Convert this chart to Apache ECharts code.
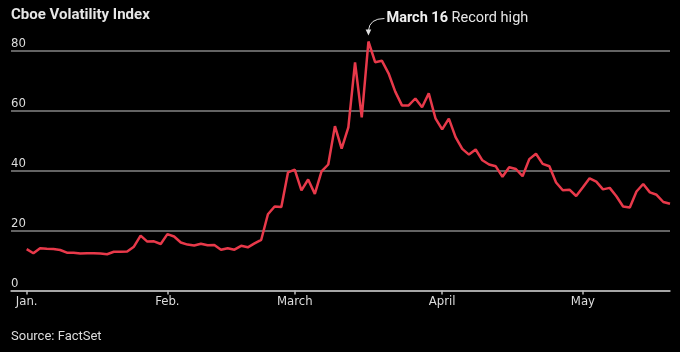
<!DOCTYPE html>
<html>
<head>
<meta charset="utf-8">
<script src="https://cdn.jsdelivr.net/npm/echarts@6/dist/echarts.min.js"></script>
<style>
  html, body { margin: 0; padding: 0; background: #000; }
  #chart { width: 680px; height: 352px; }
</style>
</head>
<body>
<div id="chart"></div>
<script>
// Cboe Volatility Index, one value per trading day (Dec 31 to mid-May)
const vixValues = [
  13.8, 12.4, 14.1, 13.9, 13.8, 13.5, 12.6, 12.6, 12.3, 12.4, 12.4, 12.3, 12.1, 12.9, 12.9, 13.0, 14.6, 18.3, 16.3, 16.4, 15.5, 18.8,
  18.0, 16.0, 15.3, 15.0, 15.6, 15.1, 15.2, 13.6, 14.1, 13.6, 14.9, 14.4, 15.7, 16.9, 25.4, 28.0, 27.8, 39.4, 40.3,
  33.4, 37.0, 32.2, 39.7, 42.0, 54.8, 47.3, 54.4, 76.0, 57.7, 83.0, 76.1, 76.6, 72.4, 66.3, 61.7, 61.7, 64.0, 61.1, 65.7, 57.4, 53.7, 57.3,
  51.1, 47.2, 45.3, 47.0, 43.4, 42.0, 41.4, 37.9, 41.1, 40.5, 38.1, 43.8, 45.6, 42.2, 41.4, 36.0, 33.4, 33.6, 31.5, 34.4,
  37.4, 36.3, 33.7, 34.2, 31.4, 28.0, 27.7, 33.0, 35.5, 32.7, 31.9, 29.5, 28.9
];

// month ticks sit on the trading-day index where each month begins
const monthTickIndex = [0, 21, 40, 62, 83];
const monthTickLabels = ['Jan.', 'Feb.', 'March', 'April', 'May'];

const yTicks = [0, 20, 40, 60, 80];

const peakLabelBold = 'March 16';
const peakLabelText = ' Record high';

const textColor = '#dcdcdc';
const lineColor = '#e8394a';
const narrowFont = '"Liberation Sans Narrow", "DejaVu Sans Condensed", Roboto, sans-serif';

const chart = echarts.init(document.getElementById('chart'));

const option = {
  backgroundColor: '#000',
  animation: false,
  title: [
    {
      text: 'Cboe Volatility Index',
      left: 6,
      top: 3,
      textStyle: { color: '#e6e6e6', fontFamily: 'Roboto', fontWeight: 'bold', fontSize: 15 }
    },
    {
      text: 'Source: FactSet',
      left: 6,
      top: 325,
      textStyle: { color: textColor, fontFamily: 'Roboto', fontWeight: 'normal', fontSize: 13 }
    }
  ],
  grid: {
    left: 11,
    right: 10,
    top: 50.5,
    bottom: 61.5,
    containLabel: false
  },
  xAxis: {
    type: 'value',
    min: -2.34,
    max: vixValues.length - 1,
    splitLine: { show: false },
    axisLine: { show: true, lineStyle: { color: '#bdbdbd', width: 1.5 } },
    axisTick: {
      show: true,
      length: 4,
      customValues: monthTickIndex,
      lineStyle: { color: '#bdbdbd', width: 1.5 }
    },
    axisLabel: {
      customValues: monthTickIndex,
      margin: 5,
      color: textColor,
      fontFamily: narrowFont,
      fontSize: 13,
      formatter: (v) => {
        const i = monthTickIndex.indexOf(Math.round(v));
        return i >= 0 ? monthTickLabels[i] : '';
      }
    }
  },
  yAxis: {
    type: 'value',
    min: yTicks[0],
    max: yTicks[yTicks.length - 1],
    interval: 20,
    axisLine: { show: false },
    axisTick: { show: false },
    splitLine: { show: true, lineStyle: { color: '#858585', width: 1.5 } },
    axisLabel: {
      inside: true,
      margin: 0,
      align: 'left',
      verticalAlign: 'bottom',
      padding: [0, 0, 0, 0],
      color: textColor,
      fontFamily: narrowFont,
      fontSize: 13
    }
  },
  series: [
    {
      name: 'VIX',
      type: 'line',
      symbol: 'none',
      smooth: false,
      clip: false,
      lineStyle: { color: lineColor, width: 2.5 },
      data: vixValues.map((v, i) => [i, v])
    }
  ]
};

chart.setOption(option);

// annotation for the record high, placed from the chart's own scales
let peakIdx = 0;
vixValues.forEach((v, i) => { if (v > vixValues[peakIdx]) peakIdx = i; });
const p = chart.convertToPixel({ xAxisIndex: 0, yAxisIndex: 0 }, [peakIdx, vixValues[peakIdx]]);

chart.setOption({
  graphic: [
    {
      type: 'bezierCurve',
      shape: {
        x1: p[0] + 16, y1: p[1] - 23,
        cpx1: p[0] + 1, cpy1: p[1] - 23,
        x2: p[0], y2: p[1] - 11
      },
      style: { stroke: '#e0e0e0', lineWidth: 1, fill: null }
    },
    {
      type: 'polygon',
      shape: { points: [[p[0] - 2.8, p[1] - 12], [p[0] + 2.8, p[1] - 12], [p[0], p[1] - 6]] },
      style: { fill: '#e0e0e0' }
    },
    {
      type: 'text',
      x: p[0] + 18,
      y: p[1] - 23,
      style: {
        text: '{b|' + peakLabelBold + '}' + peakLabelText,
        fill: '#e6e6e6',
        fontFamily: 'Roboto',
        fontSize: 14.5,
        verticalAlign: 'middle',
        rich: {
          b: { fontWeight: 'bold', fontFamily: 'Roboto', fontSize: 14.5, fill: '#f0f0f0' }
        }
      }
    }
  ]
});

window.addEventListener('resize', () => chart.resize());
</script>
</body>
</html>
